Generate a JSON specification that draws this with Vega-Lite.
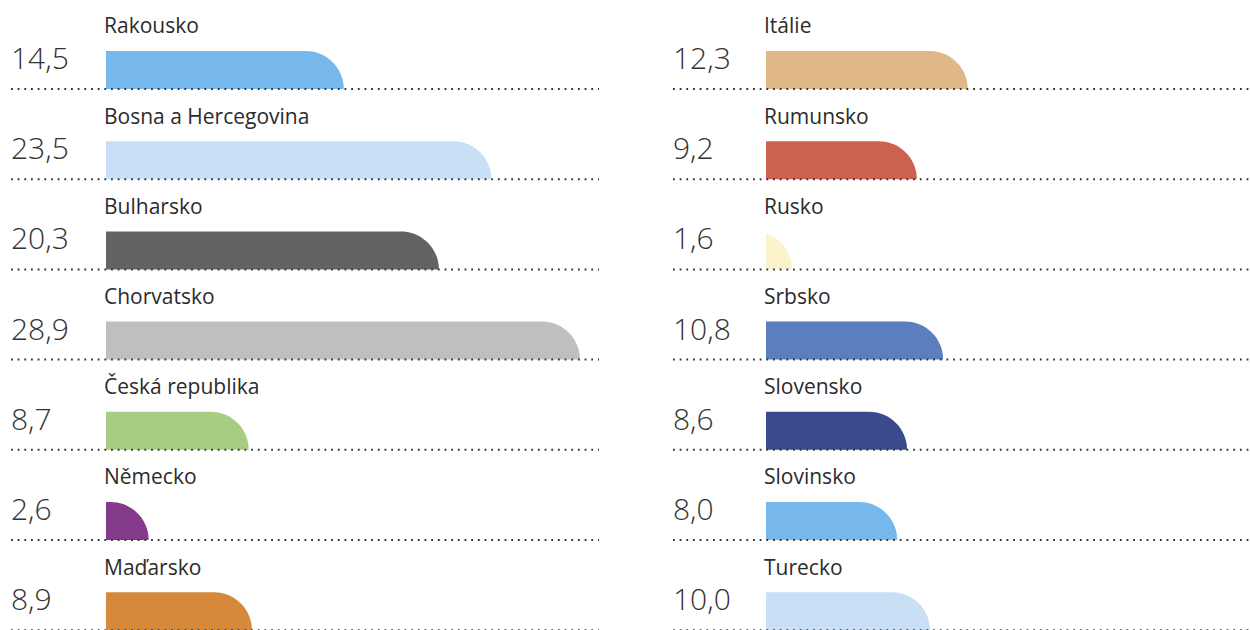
{
  "$schema": "https://vega.github.io/schema/vega-lite/v6.json",
  "padding": {"left": 10, "top": 0, "right": 0, "bottom": 0},
  "spacing": 72,
  "bounds": "flush",
  "background": "white",
  "config": {
    "view": {"stroke": null},
    "locale": {"number": {"decimal": ",", "thousands": "\u00a0", "grouping": [3], "currency": ["", "\u00a0Kč"]}}
  },
  "data": {"values": [
    {"country": "Rakousko", "value": 14.5, "col": "L"},
    {"country": "Bosna a Hercegovina", "value": 23.5, "col": "L"},
    {"country": "Bulharsko", "value": 20.3, "col": "L"},
    {"country": "Chorvatsko", "value": 28.9, "col": "L"},
    {"country": "Česká republika", "value": 8.7, "col": "L"},
    {"country": "Německo", "value": 2.6, "col": "L"},
    {"country": "Maďarsko", "value": 8.9, "col": "L"},
    {"country": "Itálie", "value": 12.3, "col": "R"},
    {"country": "Rumunsko", "value": 9.2, "col": "R"},
    {"country": "Rusko", "value": 1.6, "col": "R"},
    {"country": "Srbsko", "value": 10.8, "col": "R"},
    {"country": "Slovensko", "value": 8.6, "col": "R"},
    {"country": "Slovinsko", "value": 8.0, "col": "R"},
    {"country": "Turecko", "value": 10.0, "col": "R"}
  ]},
  "resolve": {"scale": {"x": "independent", "y": "independent"}},
  "hconcat": [
    {
      "width": 590, "height": 630,
      "transform": [{"filter": "datum.col == 'L'"}],
      "layer": [
        {
          "mark": {"type": "bar", "height": 76, "yOffset": 45.1, "cornerRadiusTopRight": 38, "x2Offset": -50},
          "encoding": {
            "x": {"field": "value", "type": "quantitative", "scale": {"domain": [-5.793, 30.183], "nice": false, "zero": false}, "axis": null},
            "x2": {"datum": 0},
            "y": {"field": "country", "type": "nominal", "scale": {"domain": ["Rakousko", "Bosna a Hercegovina", "Bulharsko", "Chorvatsko", "Česká republika", "Německo", "Maďarsko"], "range": [-1.2, 630.2], "paddingInner": 0, "paddingOuter": 0}, "axis": null},
            "color": {"field": "country", "type": "nominal", "legend": null, "scale": {
              "domain": ["Rakousko", "Bosna a Hercegovina", "Bulharsko", "Chorvatsko", "Česká republika", "Německo", "Maďarsko", "Itálie", "Rumunsko", "Rusko", "Srbsko", "Slovensko", "Slovinsko", "Turecko"],
              "range": ["#76b8eb", "#c8dff6", "#636363", "#bfbfbf", "#a7cd82", "#833a8a", "#d6893b", "#e0b787", "#cc6150", "#fcf2cc", "#5b7ebf", "#3b4a8d", "#76b8eb", "#c8dff6"]}}
          }
        },
        {
          "mark": {"type": "bar", "height": 42, "yOffset": 66.1, "color": "white"},
          "encoding": {
            "x": {"datum": -5.793},
            "x2": {"datum": 30.183},
            "y": {"field": "country", "type": "nominal"}
          }
        },
        {
          "mark": {"type": "bar", "height": 40, "yOffset": 26.1, "color": "white"},
          "encoding": {
            "x": {"datum": -5.793},
            "x2": {"datum": 0},
            "y": {"field": "country", "type": "nominal"}
          }
        },
        {
          "mark": {"type": "text", "align": "left", "baseline": "alphabetic", "font": "Open Sans", "fontSize": 21, "color": "#2b2b2b", "yOffset": 34.5, "dx": -2},
          "encoding": {
            "x": {"datum": 0},
            "y": {"field": "country", "type": "nominal", "bandPosition": 0},
            "text": {"field": "country"}
          }
        },
        {
          "mark": {"type": "text", "align": "left", "baseline": "alphabetic", "font": "Open Sans", "fontWeight": 300, "fontSize": 30, "color": "#333333", "yOffset": 70.2},
          "encoding": {
            "x": {"datum": -5.793},
            "y": {"field": "country", "type": "nominal", "bandPosition": 0},
            "text": {"field": "value", "type": "quantitative", "format": ".1f"}
          }
        },
        {
          "mark": {"type": "rule", "color": "#333333", "strokeWidth": 2, "strokeDash": [1.8, 4.87], "yOffset": 90.2},
          "encoding": {
            "x": {"datum": -5.793},
            "x2": {"datum": 30.06},
            "y": {"field": "country", "type": "nominal", "bandPosition": 0}
          }
        }
      ]
    },
    {
      "width": 578, "height": 630,
      "transform": [{"filter": "datum.col == 'R'"}],
      "layer": [
        {
          "mark": {"type": "bar", "height": 76, "yOffset": 45.1, "cornerRadiusTopRight": 38, "x2Offset": -50},
          "encoding": {
            "x": {"field": "value", "type": "quantitative", "scale": {"domain": [-5.671, 29.573], "nice": false, "zero": false}, "axis": null},
            "x2": {"datum": 0},
            "y": {"field": "country", "type": "nominal", "scale": {"domain": ["Itálie", "Rumunsko", "Rusko", "Srbsko", "Slovensko", "Slovinsko", "Turecko"], "range": [-1.2, 630.2], "paddingInner": 0, "paddingOuter": 0}, "axis": null},
            "color": {"field": "country", "type": "nominal", "legend": null, "scale": {
              "domain": ["Rakousko", "Bosna a Hercegovina", "Bulharsko", "Chorvatsko", "Česká republika", "Německo", "Maďarsko", "Itálie", "Rumunsko", "Rusko", "Srbsko", "Slovensko", "Slovinsko", "Turecko"],
              "range": ["#76b8eb", "#c8dff6", "#636363", "#bfbfbf", "#a7cd82", "#833a8a", "#d6893b", "#e0b787", "#cc6150", "#fcf2cc", "#5b7ebf", "#3b4a8d", "#76b8eb", "#c8dff6"]}}
          }
        },
        {
          "mark": {"type": "bar", "height": 42, "yOffset": 66.1, "color": "white"},
          "encoding": {
            "x": {"datum": -5.671},
            "x2": {"datum": 29.573},
            "y": {"field": "country", "type": "nominal"}
          }
        },
        {
          "mark": {"type": "bar", "height": 40, "yOffset": 26.1, "color": "white"},
          "encoding": {
            "x": {"datum": -5.671},
            "x2": {"datum": 0},
            "y": {"field": "country", "type": "nominal"}
          }
        },
        {
          "mark": {"type": "text", "align": "left", "baseline": "alphabetic", "font": "Open Sans", "fontSize": 21, "color": "#2b2b2b", "yOffset": 34.5, "dx": -2},
          "encoding": {
            "x": {"datum": 0},
            "y": {"field": "country", "type": "nominal", "bandPosition": 0},
            "text": {"field": "country"}
          }
        },
        {
          "mark": {"type": "text", "align": "left", "baseline": "alphabetic", "font": "Open Sans", "fontWeight": 300, "fontSize": 30, "color": "#333333", "yOffset": 70.2},
          "encoding": {
            "x": {"datum": -5.671},
            "y": {"field": "country", "type": "nominal", "bandPosition": 0},
            "text": {"field": "value", "type": "quantitative", "format": ".1f"}
          }
        },
        {
          "mark": {"type": "rule", "color": "#333333", "strokeWidth": 2, "strokeDash": [1.8, 4.87], "yOffset": 90.2},
          "encoding": {
            "x": {"datum": -5.671},
            "x2": {"datum": 29.573},
            "y": {"field": "country", "type": "nominal", "bandPosition": 0}
          }
        }
      ]
    }
  ]
}
